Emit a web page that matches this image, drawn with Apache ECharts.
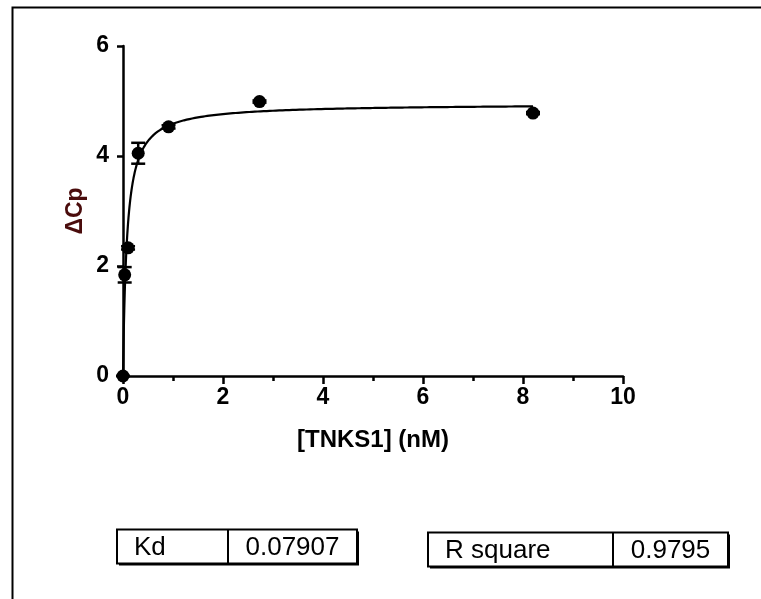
<!DOCTYPE html>
<html>
<head>
<meta charset="utf-8">
<script src="https://cdn.jsdelivr.net/npm/echarts@6/dist/echarts.min.js"></script>
<style>
  html, body { margin: 0; padding: 0; background: #fff; }
  #chart { width: 761px; height: 599px; }
</style>
</head>
<body>
<div id="chart"></div>
<script>
// Measured binding points: concentration (nM), mean ΔCp and SEM
const concentrations = [0, 0.0337, 0.101, 0.304, 0.911, 2.73, 8.2];
const deltaCp = [0, 1.84, 2.33, 4.05, 4.53, 4.99, 4.78];
const deltaCpErr = [0, 0.14, 0.03, 0.19, 0.03, 0.02, 0.02];

// One-site binding fit parameters
const fitKd = 0.07907;
const fitBmax = 4.95;
const rSquare = '0.9795';

// Axis ticks
const xTicks = [0, 2, 4, 6, 8, 10];
const yTicks = [0, 2, 4, 6];

// Fitted hyperbola sampled along x
const fitX = [];
for (let i = 0; i <= 400; i++) {
  const t = i / 400;
  fitX.push(8.2 * t * t * t);
}
const fitLine = fitX.map(x => [x, fitBmax * x / (fitKd + x)]);

const points = concentrations.map((x, i) => [x, deltaCp[i]]);
const bars = concentrations.map((x, i) => [x, deltaCp[i] - deltaCpErr[i], deltaCp[i] + deltaCpErr[i]]);

const chart = echarts.init(document.getElementById('chart'), null, { renderer: 'canvas' });

const fam = '"Liberation Sans", Arial, sans-serif';
const tickFont = { fontFamily: fam, fontWeight: 'bold', fontSize: 23, color: '#000' };

function tableBox(left, top, w, h, split, label, value) {
  return {
    type: 'group',
    left: left, top: top,
    children: [
      { type: 'rect', shape: { x: 2, y: 2, width: w, height: h }, style: { fill: '#000' } },
      { type: 'rect', shape: { x: 0, y: 0, width: w, height: h }, style: { fill: '#fff', stroke: '#000', lineWidth: 2 } },
      { type: 'line', shape: { x1: split, y1: 0, x2: split, y2: h }, style: { stroke: '#000', lineWidth: 2 } },
      { type: 'text', x: 17, y: h / 2 + 1, style: { text: label, font: '26px ' + fam, fill: '#000', verticalAlign: 'middle' } },
      { type: 'text', x: (split + w) / 2, y: h / 2 + 1, style: { text: value, font: '26px ' + fam, fill: '#000', align: 'center', verticalAlign: 'middle' } }
    ]
  };
}

chart.setOption({
  animation: false,
  backgroundColor: '#fff',
  grid: { left: 123, right: 138, top: 46, bottom: 223 },
  xAxis: {
    type: 'value', min: 0, max: 10, interval: 2,
    name: '[TNKS1] (nM)', nameLocation: 'middle', nameGap: 52,
    nameTextStyle: { fontFamily: fam, fontWeight: 'bold', fontSize: 24, color: '#000' },
    axisLine: { onZero: false, lineStyle: { color: '#000', width: 2.5 } },
    axisTick: { show: true, length: 8, lineStyle: { color: '#000', width: 2.5 } },
    minorTick: { show: true, splitNumber: 2, length: 5, lineStyle: { color: '#000', width: 2.5 } },
    axisLabel: Object.assign({ margin: 10, formatter: v => xTicks.includes(v) ? String(v) : '' }, tickFont),
    splitLine: { show: false }
  },
  yAxis: {
    type: 'value', min: 0, max: 6, interval: 2,
    name: 'ΔCp', nameLocation: 'middle', nameGap: 36, nameRotate: 90, nameMoveOverlap: false,
    nameTextStyle: { fontFamily: fam, fontWeight: 'bold', fontSize: 23, color: '#4a0c0c' },
    axisLine: { show: true, onZero: false, lineStyle: { color: '#000', width: 2.5 } },
    axisTick: { show: true, length: 6, lineStyle: { color: '#000', width: 2.5 } },
    axisLabel: Object.assign({ margin: 14, formatter: v => yTicks.includes(v) ? String(v) : '' }, tickFont),
    splitLine: { show: false }
  },
  series: [
    {
      type: 'line', data: fitLine, showSymbol: false, smooth: false, clip: false,
      lineStyle: { color: '#000', width: 2.2 }, z: 2
    },
    {
      type: 'custom', data: bars, clip: false, z: 3,
      renderItem: function (params, api) {
        const x = api.value(0);
        const lo = api.coord([x, api.value(1)]);
        const hi = api.coord([x, api.value(2)]);
        const cap = 7;
        const st = { stroke: '#000', lineWidth: 2.5 };
        return {
          type: 'group',
          children: [
            { type: 'line', shape: { x1: lo[0], y1: lo[1], x2: hi[0], y2: hi[1] }, style: st },
            { type: 'line', shape: { x1: lo[0] - cap, y1: lo[1], x2: lo[0] + cap, y2: lo[1] }, style: st },
            { type: 'line', shape: { x1: hi[0] - cap, y1: hi[1], x2: hi[0] + cap, y2: hi[1] }, style: st }
          ]
        };
      }
    },
    {
      type: 'scatter', data: points, symbol: 'circle', symbolSize: 13, clip: false, z: 4,
      itemStyle: { color: '#000', opacity: 1 }
    }
  ],
  graphic: [
    { type: 'rect', left: 10, top: 5, shape: { width: 800, height: 700 }, style: { fill: 'none', stroke: '#000', lineWidth: 2 }, z: 10 },
    tableBox(116, 527, 240, 34, 111, 'Kd', fitKd.toString()),
    tableBox(427, 530, 300, 34, 185, 'R square', rSquare)
  ]
});
</script>
</body>
</html>
